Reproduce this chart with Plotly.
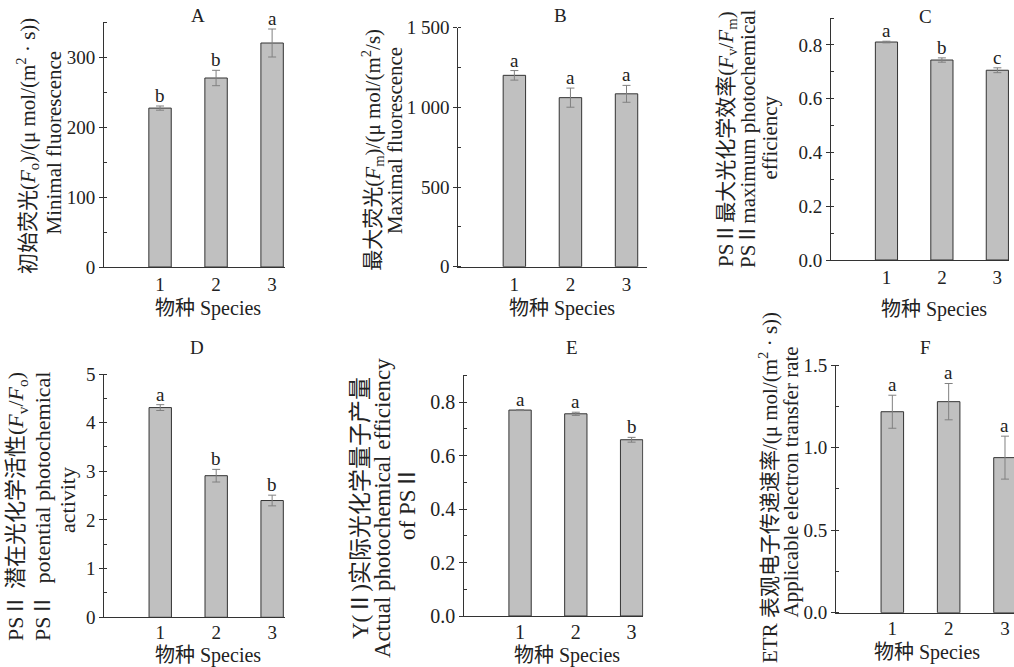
import plotly.graph_objects as go

W, H = 1014, 667

species = [1, 2, 3]
species_labels = ["1", "2", "3"]

fo_mean = [227, 270, 320]
fo_err = [3, 11, 20]
fo_sig = ["b", "b", "a"]

fm_mean = [1201, 1061, 1085]
fm_err = [30, 60, 53]
fm_sig = ["a", "a", "a"]

fvfm_mean = [0.811, 0.744, 0.706]
fvfm_err = [0.003, 0.008, 0.009]
fvfm_sig = ["a", "b", "c"]

fvfo_mean = [4.31, 2.91, 2.40]
fvfo_err = [0.06, 0.13, 0.11]
fvfo_sig = ["a", "b", "b"]

y2_mean = [0.770, 0.756, 0.659]
y2_err = [0.002, 0.006, 0.009]
y2_sig = ["a", "a", "b"]

etr_mean = [1.217, 1.278, 0.939]
etr_err = [0.10, 0.11, 0.13]
etr_sig = ["a", "a", "a"]

FONT = "Liberation Serif, Noto Sans CJK SC, serif"
AX = "#333333"
TXT = "#222222"

def px(x):
    return x / W

def py(y):
    return 1 - y / H

panels = [
    dict(mean=fo_mean, err=fo_err, sig=fo_sig, x0=104, x1=285, yb=267, yt=22, xr=3.23,
         yr=[0, 350], dtick=100, minor=50, fmt=None, title="A", tpos=(198, 16),
         xt=(208, 308), ts=21, tick=19, so=0,
         ylines=[("初始荧光(<i>F</i><sub>o</sub>)/(μ mol/(m<sup>2</sup> · s))", 27, 146),
                 ("Minimal fluorescence", 53, 142.5)]),
    dict(mean=fm_mean, err=fm_err, sig=fm_sig, x0=458.3, x1=646.7, yb=266.7, yt=27.7, xr=3.36,
         yr=[0, 1500], dtick=500, minor=250, fmt="B", title="B", tpos=(560, 16),
         xt=(562, 308), ts=21, tick=19, so=0,
         ylines=[("最大荧光(<i>F</i><sub>m</sub>)/(μ mol/(m<sup>2</sup>/s)", 371.7, 150),
                 ("Maximal fluorescence", 395, 141)]),
    dict(mean=fvfm_mean, err=fvfm_err, sig=fvfm_sig, x0=831, x1=1009, yb=260, yt=18.1, xr=3.21,
         yr=[0, 0.9], dtick=0.2, minor=0.1, fmt=".1f", title="C", tpos=(925, 17),
         xt=(934, 309), ts=21, tick=19, so=0,
         ylines=[("PSⅡ最大光化学效率(<i>F</i><sub>v</sub>/<i>F</i><sub>m</sub>)", 727, 139),
                 ("PSⅡmaximum photochemical", 748, 139),
                 ("efficiency", 770, 137.5)]),
    dict(mean=fvfo_mean, err=fvfo_err, sig=fvfo_sig, x0=104.3, x1=285, yb=617.3, yt=374, xr=3.23,
         yr=[0, 5], dtick=1, minor=0.5, fmt=None, title="D", tpos=(197, 347),
         xt=(208, 655), ts=22, tick=19, so=-2,
         ylines=[("PSⅡ 潜在光化学活性(<i>F</i><sub>v</sub>/<i>F</i><sub>o</sub>)", 17, 507),
                 ("PSⅡ  potential photochemical", 43, 507),
                 ("activity", 68, 500)]),
    dict(mean=y2_mean, err=y2_err, sig=y2_sig, x0=464.3, x1=643.3, yb=616, yt=375.3, xr=3.21,
         yr=[0, 0.9], dtick=0.2, minor=0.1, fmt=".1f", title="E", tpos=(572, 347),
         xt=(567, 655), ts=23, tick=20, so=-2,
         ylines=[("Y(Ⅱ)实际光化学量子产量", 360, 508),
                 ("Actual photochemical efficiency", 382, 508),
                 ("of PSⅡ", 407, 503)]),
    dict(mean=etr_mean, err=etr_err, sig=etr_sig, x0=836, x1=1014, yb=612.7, yt=365, xr=3.16,
         yr=[0, 1.5], dtick=0.5, minor=0.25, fmt=".1f", title="F", tpos=(925, 347),
         xt=(927, 652), ts=21, tick=19, so=-2,
         ylines=[("ETR 表观电子传递速率/(μ mol/(m<sup>2</sup> · s))", 768, 488),
                 ("Applicable electron transfer rate", 790, 482.5)]),
]

fig = go.Figure()
annotations = []
layout = {}

for i, p in enumerate(panels):
    n = "" if i == 0 else str(i + 1)
    xa, ya = "x" + n, "y" + n
    fig.add_trace(go.Bar(
        x=species, y=p["mean"], xaxis=xa, yaxis=ya, width=0.4,
        marker=dict(color="#c0c0c0", line=dict(color=AX, width=1)),
        error_y=dict(type="data", array=p["err"], visible=True, color="#808080",
                     thickness=1, width=4),
        showlegend=False, hoverinfo="skip",
    ))
    yaxis = dict(
        domain=[py(p["yb"]), py(p["yt"])], range=p["yr"], anchor=xa, automargin=False,
        showline=True, linecolor=AX, linewidth=1, showgrid=False, zeroline=False,
        ticks="outside", ticklen=4, tickcolor=AX, tickwidth=1, dtick=p["dtick"], tick0=0,
        minor=dict(ticks="inside", ticklen=3, tickcolor=AX, dtick=p["minor"], tick0=0),
        tickfont=dict(family=FONT, size=p["tick"], color=TXT),
    )
    if p["fmt"] == "B":
        yaxis.update(tickmode="array", tickvals=[0, 500, 1000, 1500],
                     ticktext=["0", "500", "1 000", "1 500"])
    elif p["fmt"]:
        yaxis["tickformat"] = p["fmt"]
    xaxis = dict(
        domain=[px(p["x0"]), px(p["x1"])], range=[0, p["xr"]], anchor=ya, automargin=False,
        showline=True, linecolor=AX, linewidth=1, showgrid=False, zeroline=False,
        ticks="", tickmode="array", tickvals=species, ticktext=species_labels,
        ticklabelstandoff=p["so"],
        tickfont=dict(family=FONT, size=p["tick"], color=TXT),
    )
    layout["xaxis" + n] = xaxis
    layout["yaxis" + n] = yaxis

    for xv, m, e, s in zip(species, p["mean"], p["err"], p["sig"]):
        annotations.append(dict(
            x=xv, y=m + e, xref=xa, yref=ya, text=s, showarrow=False,
            yanchor="bottom", yshift=-2,
            font=dict(family=FONT, size=19, color=TXT),
        ))
    annotations.append(dict(
        x=px(p["tpos"][0]), y=py(p["tpos"][1]), xref="paper", yref="paper",
        text=p["title"], showarrow=False, xanchor="center", yanchor="middle",
        font=dict(family=FONT, size=19, color=TXT),
    ))
    annotations.append(dict(
        x=px(p["xt"][0]), y=py(p["xt"][1]), xref="paper", yref="paper",
        text="物种 Species", showarrow=False, xanchor="center", yanchor="middle",
        font=dict(family=FONT, size=20, color=TXT),
    ))
    for txt, lx, ly in p["ylines"]:
        annotations.append(dict(
            x=px(lx), y=py(ly), xref="paper", yref="paper", text=txt,
            showarrow=False, textangle=-90, xanchor="center", yanchor="middle",
            font=dict(family=FONT, size=p["ts"], color=TXT),
        ))

fig.update_layout(
    width=W, height=H, margin=dict(l=0, r=0, t=0, b=0, pad=0, autoexpand=False),
    paper_bgcolor="white", plot_bgcolor="white",
    annotations=annotations, **layout,
)

fig.write_html("out.html", config={"displayModeBar": False},
               post_script="document.body.style.margin='0';")
